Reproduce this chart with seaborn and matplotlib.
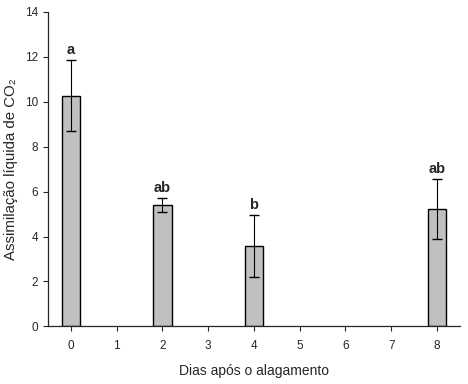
import matplotlib
matplotlib.use("Agg")
import matplotlib.pyplot as plt
import seaborn as sns
import pandas as pd

days = [0, 2, 4, 8]
all_days = [0, 1, 2, 3, 4, 5, 6, 7, 8]
values = [10.27, 5.40, 3.56, 5.22]
errors = [1.57, 0.31, 1.38, 1.33]
letters = ["a", "ab", "b", "ab"]

sns.set_style("ticks")
plt.rcParams['font.family'] = ['Liberation Sans', 'DejaVu Sans']

df = pd.DataFrame({"dia": days, "valor": values})

fig = plt.figure(figsize=(4.68, 3.84), dpi=100)
ax = fig.add_axes([0.1026, 0.150, 0.880, 0.819])

sns.barplot(data=df, x="dia", y="valor", order=all_days, color="#c0c0c0",
            edgecolor="black", linewidth=1.0, width=0.4, saturation=1,
            errorbar=None, ax=ax)

pos = [all_days.index(d) for d in days]
ax.errorbar(pos, values, yerr=errors, fmt="none", ecolor="black",
            elinewidth=0.8, capsize=3.5, capthick=1.0)

for p, v, e, t in zip(pos, values, errors, letters):
    ax.text(p, v + e + 0.15, t, ha="center", va="bottom", fontsize=10.5,
            fontweight="bold")

ax.set_xlim(-0.5, 8.5)
ax.set_ylim(0, 14)
ax.set_yticks([0, 2, 4, 6, 8, 10, 12, 14])
ax.set_xlabel("Dias após o alagamento", fontsize=10, labelpad=9)
ax.set_ylabel("Assimilação líquida de CO₂", fontsize=10.8, labelpad=5)
ax.tick_params(axis="both", labelsize=8.5, direction="out", length=3.5, width=0.8)
ax.tick_params(axis="x", pad=6)
for s in ["top", "right"]:
    ax.spines[s].set_visible(False)
for s in ["left", "bottom"]:
    ax.spines[s].set_linewidth(0.9)

fig.savefig("out.png", dpi=100)
